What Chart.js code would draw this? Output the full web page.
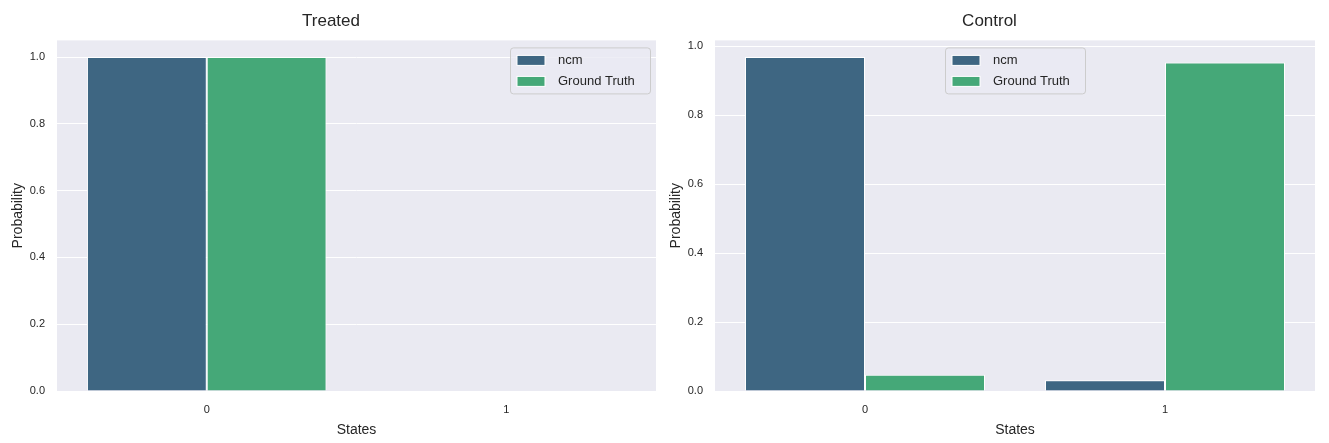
<!DOCTYPE html>
<html>
<head>
<meta charset="utf-8">
<script src="https://cdn.jsdelivr.net/npm/chart.js@4.4.1/dist/chart.umd.min.js"></script>
<style>
  html, body { margin: 0; padding: 0; background: #ffffff; }
  .panel { position: absolute; top: 0; height: 443px; }
  #leftBox { left: 0; width: 664px; }
  #rightBox { left: 664px; width: 665px; }
</style>
</head>
<body>
<div class="panel" id="leftBox"><canvas id="treatedChart"></canvas></div>
<div class="panel" id="rightBox"><canvas id="controlChart"></canvas></div>
<script>
const states = ['0', '1'];
const seriesNames = ['ncm', 'Ground Truth'];
const treatedNcm = [1.0, 0.0];
const treatedTruth = [1.0, 0.0];
const controlNcm = [0.969, 0.031];
const controlTruth = [0.047, 0.953];
const yTicks = [0.0, 0.2, 0.4, 0.6, 0.8, 1.0];

const ncmColor = '#3e6682';
const truthColor = '#45a878';
const fontFamily = '"Liberation Sans", Arial, sans-serif';
const textColor = '#262626';

// legend box drawn inside the plot area, like matplotlib's
const innerLegend = {
    id: 'innerLegend',
    afterDatasetsDraw(chart, args, opts) {
        const { ctx, chartArea } = chart;
        const w = 140, h = 46;
        let x;
        if (opts.where === 'center') {
            x = (chartArea.left + chartArea.right) / 2 - w / 2;
        } else {
            x = chartArea.right - 6 - w;
        }
        const y = chartArea.top + 7;
        ctx.save();
        ctx.beginPath();
        ctx.roundRect(x + 0.5, y + 0.5, w, h, 3);
        ctx.fillStyle = 'rgba(234,234,242,0.8)';
        ctx.fill();
        ctx.strokeStyle = '#cccccc';
        ctx.lineWidth = 1;
        ctx.stroke();
        ctx.font = '13px ' + fontFamily;
        ctx.textBaseline = 'middle';
        chart.data.datasets.forEach((ds, i) => {
            const rowY = y + 12 + i * 21;
            ctx.fillStyle = ds.backgroundColor;
            ctx.fillRect(x + 7, rowY - 4, 28, 10);
            ctx.strokeStyle = '#ffffff';
            ctx.strokeRect(x + 7, rowY - 4, 28, 10);
            ctx.fillStyle = textColor;
            ctx.fillText(ds.label, x + 48, rowY + 1);
        });
        ctx.restore();
    }
};

// seaborn darkgrid background
const plotBackground = {
    id: 'plotBackground',
    beforeDraw(chart) {
        const { ctx, chartArea } = chart;
        ctx.save();
        ctx.fillStyle = '#eaeaf2';
        ctx.fillRect(chartArea.left, chartArea.top, chartArea.right - chartArea.left, chartArea.bottom - chartArea.top);
        ctx.restore();
    }
};

function makeChart(canvasId, title, ncmData, truthData, padLeft, yAxisWidth, padRight, legendWhere) {
    const yMax = Math.max(...ncmData, ...truthData) * 1.05;
    return new Chart(document.getElementById(canvasId), {
        type: 'bar',
        data: {
            labels: states,
            datasets: [
                { label: seriesNames[0], data: ncmData, backgroundColor: ncmColor, borderColor: '#ffffff', borderWidth: 1, borderSkipped: 'bottom' },
                { label: seriesNames[1], data: truthData, backgroundColor: truthColor, borderColor: '#ffffff', borderWidth: 1, borderSkipped: 'bottom' }
            ]
        },
        options: {
            responsive: true,
            maintainAspectRatio: false,
            animation: false,
            layout: { padding: { left: padLeft, right: padRight, top: 0, bottom: 0 } },
            datasets: { bar: { categoryPercentage: 0.8, barPercentage: 1.0 } },
            plugins: {
                legend: { display: false },
                tooltip: { enabled: false },
                title: {
                    display: true,
                    text: title,
                    color: textColor,
                    font: { family: fontFamily, size: 17, weight: 'normal' },
                    padding: { top: 11, bottom: 9 }
                },
                innerLegend: { where: legendWhere }
            },
            scales: {
                x: {
                    grid: { display: false },
                    border: { display: false },
                    ticks: { color: textColor, font: { family: fontFamily, size: 11 }, padding: 4 },
                    title: { display: true, text: 'States', color: textColor, font: { family: fontFamily, size: 14 }, padding: { top: 0 } },
                    afterFit(scale) { scale.height = 52; }
                },
                y: {
                    min: 0,
                    max: yMax,
                    grid: { color: '#ffffff', lineWidth: 1, drawTicks: false },
                    border: { display: false },
                    afterBuildTicks(scale) { scale.ticks = yTicks.map(v => ({ value: v })); },
                    ticks: {
                        color: textColor,
                        font: { family: fontFamily, size: 11 },
                        padding: 12,
                        callback: v => v.toFixed(1)
                    },
                    title: { display: true, text: 'Probability', color: textColor, font: { family: fontFamily, size: 14 }, padding: { bottom: 4 } },
                    afterFit(scale) { scale.width = yAxisWidth; }
                }
            }
        },
        plugins: [plotBackground, innerLegend]
    });
}

makeChart('treatedChart', 'Treated', treatedNcm, treatedTruth, 6, 51, 8, 'right');
makeChart('controlChart', 'Control', controlNcm, controlTruth, 0, 51, 14, 'center');
</script>
</body>
</html>
